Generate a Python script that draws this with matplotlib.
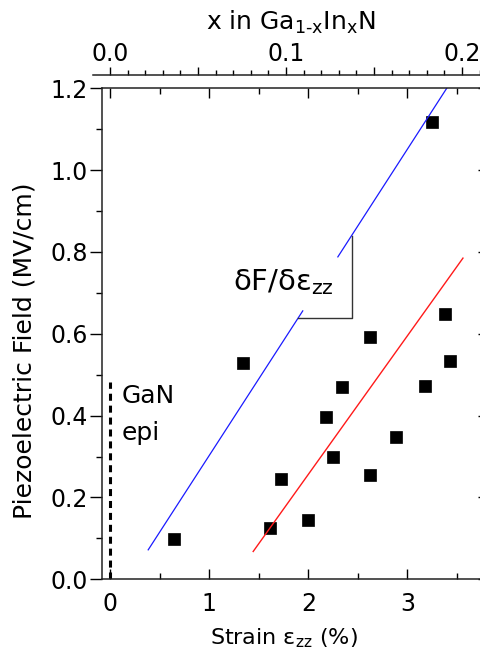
import matplotlib
matplotlib.use("Agg")
import matplotlib.pyplot as plt
from matplotlib.ticker import MultipleLocator, FuncFormatter, FormatStrFormatter

plt.rcParams['font.family'] = ['DejaVu Sans']
plt.rcParams['mathtext.default'] = 'regular'

# measured samples (strain in %, field in MV/cm)
strain = [0.65, 1.34, 1.61, 1.72, 2.00, 2.18, 2.25, 2.34, 2.62, 2.62, 2.88, 3.18, 3.25, 3.38, 3.43]
field = [0.098, 0.528, 0.126, 0.245, 0.145, 0.397, 0.300, 0.469, 0.593, 0.255, 0.348, 0.473, 1.118, 0.648, 0.533]

# blue fit line, broken where the slope triangle sits
blue_lo_x = [0.385, 1.944]
blue_lo_y = [0.072, 0.656]
blue_hi_x = [2.298, 3.396]
blue_hi_y = [0.788, 1.2]

# red fit line
red_x = [1.444, 3.56]
red_y = [0.068, 0.785]

# slope triangle
tri_x = [1.895, 2.437, 2.437]
tri_y = [0.638, 0.638, 0.838]

# GaN epi reference (zero strain)
gan_x = [0.0, 0.0]
gan_y = [0.0, 0.483]

W, H = 480, 651
fig = plt.figure(figsize=(W / 100, H / 100), dpi=100)

left, right, top, bottom = 102, 481.5, 88.3, 579.3
ax = fig.add_axes([left / W, 1 - bottom / H, (right - left) / W, (bottom - top) / H])

ax.plot(strain, field, 's', color='black', ms=9, mew=0.5)
ax.plot(blue_lo_x, blue_lo_y, color='#1a1aff', lw=0.9)
ax.plot(blue_hi_x, blue_hi_y, color='#1a1aff', lw=0.9)
ax.plot(red_x, red_y, color='#ff1a1a', lw=1.0)
ax.plot(tri_x, tri_y, color='#333333', lw=1.0)
ax.plot(gan_x, gan_y, color='black', lw=2.2, ls=(0, (2.3, 1.6)))

ax.text(1.239, 0.707, r'$\delta$F/$\delta\epsilon_{zz}$', fontsize=21, va='baseline')
ax.text(0.116, 0.431, 'GaN', fontsize=18, va='baseline')
ax.text(0.116, 0.340, 'epi', fontsize=18, va='baseline')

ax.set_xlim(-0.081, 3.747)
ax.set_ylim(0, 1.2)
ax.xaxis.set_major_locator(MultipleLocator(1))
ax.xaxis.set_minor_locator(MultipleLocator(0.5))
ax.yaxis.set_major_locator(MultipleLocator(0.2))
ax.yaxis.set_minor_locator(MultipleLocator(0.1))
ax.yaxis.set_major_formatter(FormatStrFormatter('%.1f'))

ax.tick_params(axis='x', which='both', direction='in', top=True, bottom=True, width=1,
               labelsize=17, pad=9)
ax.tick_params(axis='x', which='major', length=7)
ax.tick_params(axis='x', which='minor', length=4)
ax.tick_params(axis='y', which='both', direction='out', left=True, right=False, width=1,
               labelsize=17, pad=1)
ax.tick_params(axis='y', which='major', length=9)
ax.tick_params(axis='y', which='minor', length=4)
for s in ax.spines.values():
    s.set_linewidth(1.1)
    s.set_color('#222222')

# inward ticks on the right edge
sec = ax.secondary_yaxis('right')
sec.yaxis.set_major_locator(MultipleLocator(0.2))
sec.tick_params(direction='in', length=3, width=1, labelright=False)

# composition axis drawn as its own line above the main frame
t_left, t_right, t_y = 93, 481.5, 75.5
ax2 = fig.add_axes([t_left / W, 1 - t_y / H, (t_right - t_left) / W, 1e-4])
ax2.patch.set_visible(False)
for side in ['bottom', 'left', 'right']:
    ax2.spines[side].set_visible(False)
ax2.spines['top'].set_linewidth(1.1)
ax2.spines['top'].set_color('#222222')
ax2.set_yticks([])
ax2.set_xlim((t_left - 110) / 1760, (t_right - 110) / 1760)
ax2.xaxis.tick_top()
ax2.xaxis.set_major_locator(MultipleLocator(0.05))
ax2.xaxis.set_minor_locator(MultipleLocator(0.01))
ax2.xaxis.set_major_formatter(FuncFormatter(
    lambda v, p: f'{v:.1f}' if abs(v * 10 - round(v * 10)) < 1e-6 else ''))
ax2.tick_params(axis='x', which='both', direction='out', width=1, labelsize=17, pad=0.5)
ax2.tick_params(axis='x', which='major', length=6)
ax2.tick_params(axis='x', which='minor', length=3.5)

fig.text(291 / W, 1 - 30 / H, r'x in Ga$_{1\text{-}x}$In$_x$N', fontsize=18,
         ha='center', va='baseline')
fig.text(24.5 / W, 1 - 351 / H, 'Piezoelectric Field (MV/cm)', fontsize=18,
         rotation=90, ha='center', va='center')
fig.text(284 / W, 1 - 638 / H, r'Strain $\epsilon_{zz}$ (%)', fontsize=16,
         ha='center', va='center')

fig.savefig('out.png', dpi=100)
